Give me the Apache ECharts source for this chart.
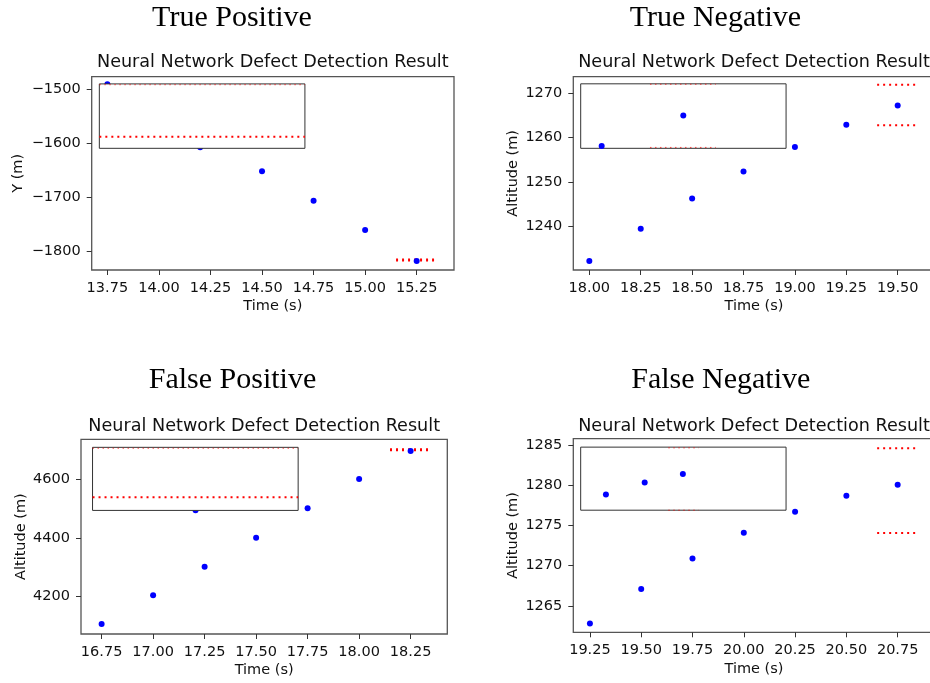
<!DOCTYPE html>
<html>
<head>
<meta charset="utf-8">
<script src="https://cdn.jsdelivr.net/npm/echarts@6/dist/echarts.min.js"></script>
<style>
html,body{margin:0;padding:0;overflow:hidden;background:#fff;}
#c{width:940px;height:683px;}
</style>
</head>
<body>
<div id="c"></div>
<script>
// ---- True Positive ----
const tpTime = [13.75, 14.2, 14.5, 14.75, 15.0, 15.25];
const tpValue = [-1490.8, -1607.2, -1651.6, -1705.9, -1760, -1817.3];
const tpXTicks = [13.75, 14.0, 14.25, 14.5, 14.75, 15.0, 15.25];
const tpYTicks = [-1800, -1700, -1600, -1500];
const tpGuides = [[15.15, 15.35, -1815.5]];
const tpInsetGuides = [[13.711, 14.708, -1587.6]];
const tpInsetFaint = [[13.711, 14.708, -1491.5]];
const tpInset = [13.711, 14.708, -1609, -1490];

// ---- True Negative ----
const tnTime = [18.0, 18.06, 18.25, 18.457, 18.5, 18.75, 19.0, 19.25, 19.5];
const tnValue = [1232.3, 1258.1, 1239.5, 1265.0, 1246.3, 1252.4, 1257.9, 1262.9, 1267.2];
const tnXTicks = [18.0, 18.25, 18.5, 18.75, 19.0, 19.25, 19.5];
const tnYTicks = [1240, 1250, 1260, 1270];
const tnGuides = [[19.4, 19.6, 1271.9], [19.4, 19.6, 1262.8]];
const tnInsetGuides = [];
const tnInsetFaint = [[18.295, 18.615, 1272.0], [18.295, 18.615, 1257.8]];
const tnInset = [17.958, 18.957, 1257.6, 1272.1];

// ---- False Positive ----
const fpTime = [16.75, 17.0, 17.206, 17.25, 17.5, 17.75, 18.0, 18.25];
const fpValue = [4106.9, 4204.5, 4494.3, 4302.3, 4401, 4501, 4601, 4696.5];
const fpXTicks = [16.75, 17.0, 17.25, 17.5, 17.75, 18.0, 18.25];
const fpYTicks = [4200, 4400, 4600];
const fpGuides = [[18.15, 18.35, 4700.9]];
const fpInsetGuides = [[16.706, 17.704, 4539]];
const fpInsetFaint = [[16.706, 17.704, 4706]];
const fpInset = [16.706, 17.704, 4494, 4709];

// ---- False Negative ----
const fnTime = [19.25, 19.328, 19.5, 19.517, 19.703, 19.75, 20.0, 20.25, 20.5, 20.75];
const fnValue = [1262.8, 1278.85, 1267.1, 1280.35, 1281.4, 1270.9, 1274.1, 1276.7, 1278.7, 1280.06];
const fnXTicks = [19.25, 19.5, 19.75, 20.0, 20.25, 20.5, 20.75];
const fnYTicks = [1265, 1270, 1275, 1280, 1285];
const fnGuides = [[20.65, 20.85, 1284.6], [20.65, 20.85, 1274.05]];
const fnInsetGuides = [];
const fnInsetFaint = [[19.632, 19.78, 1284.66], [19.632, 19.78, 1276.9]];
const fnInset = [19.205, 20.206, 1276.9, 1284.75];

const panels = [
  {time: tpTime, value: tpValue, xt: tpXTicks, yt: tpYTicks, guides: tpGuides, ig: tpInsetGuides, igf: tpInsetFaint, inset: tpInset, opaque: true,
   grid: {left: 91.7, top: 76.7, width: 362.3, height: 193.3}, xr: [13.674, 15.431], yr: [-1833.8, -1476.7], yName: 'Y (m)', yGap: 66,
   title: 'True Positive', tx: 232, ty: 18.5, sx: 272.8, sy: 62.5},
  {time: tnTime, value: tnValue, xt: tnXTicks, yt: tnYTicks, guides: tnGuides, ig: tnInsetGuides, igf: tnInsetFaint, inset: tnInset, opaque: false,
   grid: {left: 573.3, top: 76.7, width: 361.4, height: 193.3}, xr: [17.922, 19.68], yr: [1230.25, 1273.7], yName: 'Altitude (m)', yGap: 53,
   title: 'True Negative', tx: 715.5, ty: 18.5, sx: 754, sy: 62.5},
  {time: fpTime, value: fpValue, xt: fpXTicks, yt: fpYTicks, guides: fpGuides, ig: fpInsetGuides, igf: fpInsetFaint, inset: fpInset, opaque: true,
   grid: {left: 81, top: 439.3, width: 366.3, height: 194.7}, xr: [16.65, 18.428], yr: [4072.8, 4736.4], yName: 'Altitude (m)', yGap: 46,
   title: 'False Positive', tx: 232.5, ty: 380, sx: 264.2, sy: 426},
  {time: fnTime, value: fnValue, xt: fnXTicks, yt: fnYTicks, guides: fnGuides, ig: fnInsetGuides, igf: fnInsetFaint, inset: fnInset, opaque: false,
   grid: {left: 573.3, top: 438.7, width: 361.3, height: 193.6}, xr: [19.169, 20.93], yr: [1261.7, 1285.8], yName: 'Altitude (m)', yGap: 53,
   title: 'False Negative', tx: 720.8, ty: 380, sx: 754, sy: 426}
];

const SANS = 'DejaVu Sans';
const txt = '#111';
const spine = '#555';
const grids = [], xAxes = [], yAxes = [], series = [], graphics = [];

panels.forEach((p, i) => {
  grids.push(Object.assign({show: true, borderColor: spine, borderWidth: 1.3, backgroundColor: 'transparent'}, p.grid));
  xAxes.push({
    type: 'value', gridIndex: i, min: p.xr[0], max: p.xr[1],
    name: 'Time (s)', nameLocation: 'middle', nameGap: 29,
    nameTextStyle: {fontFamily: SANS, fontSize: 14.5, color: txt},
    axisLine: {show: false, onZero: false},
    axisTick: {show: true, length: 5, lineStyle: {color: '#333', width: 1}, customValues: p.xt},
    axisLabel: {show: true, margin: 10.5, fontFamily: SANS, fontSize: 14.5, color: txt, customValues: p.xt,
      formatter: v => Number(v).toFixed(2)},
    splitLine: {show: false}
  });
  yAxes.push({
    type: 'value', gridIndex: i, min: p.yr[0], max: p.yr[1],
    name: p.yName, nameLocation: 'middle', nameGap: p.yGap, nameRotate: 90,
    nameTextStyle: {fontFamily: SANS, fontSize: 14.5, color: txt},
    axisLine: {show: false, onZero: false},
    axisTick: {show: true, length: 5, lineStyle: {color: '#333', width: 1}, customValues: p.yt},
    axisLabel: {show: true, margin: 11, fontFamily: SANS, fontSize: 14.5, color: txt, customValues: p.yt,
      formatter: v => v < 0 ? '\u2212' + Math.abs(v) : String(v)},
    splitLine: {show: false}
  });
  series.push({
    type: 'scatter', xAxisIndex: i, yAxisIndex: i, symbolSize: 6, z: 2,
    itemStyle: {color: '#0000ff', opacity: 1}, silent: true,
    data: p.time.map((t, k) => [t, p.value[k]])
  });
  // inset rectangle
  series.push({
    type: 'line', xAxisIndex: i, yAxisIndex: i, z: 3, silent: true, data: [],
    markArea: {
      silent: true, label: {show: false}, z: p.opaque ? 5 : 1,
      itemStyle: {color: p.opaque ? '#ffffff' : 'rgba(0,0,0,0)', borderColor: '#333', borderWidth: 1, opacity: 1},
      emphasis: {disabled: true},
      data: [[{coord: [p.inset[0], p.inset[2]]}, {coord: [p.inset[1], p.inset[3]]}]]
    }
  });
  const addSeg = (s, w, dash, op, z) => series.push({
    type: 'line', xAxisIndex: i, yAxisIndex: i, z: z, silent: true, symbol: 'none',
    lineStyle: {color: '#ff0000', width: w, type: dash, cap: 'butt', opacity: op},
    data: [[s[0], s[2]], [s[1], s[2]]]
  });
  p.guides.forEach(s => addSeg(s, i === 0 || i === 2 ? 3 : 2, [2, 4], 1, 1));
  p.ig.forEach(s => addSeg(s, 2, [2, 4], 1, 7));
  p.igf.forEach(s => addSeg(s, 1, [1.5, 3.5], 0.7, 7));

  graphics.push({type: 'text', z: 10, style: {text: p.title, x: p.tx, y: p.ty, align: 'center', verticalAlign: 'middle',
    font: '30px "Liberation Serif"', fill: '#000'}});
  graphics.push({type: 'text', z: 10, style: {text: 'Neural Network Defect Detection Result', x: p.sx, y: p.sy, align: 'center', verticalAlign: 'middle',
    font: '17.6px "DejaVu Sans"', fill: txt}});
});

const chart = echarts.init(document.getElementById('c'), null, {renderer: 'canvas'});
chart.setOption({
  animation: false,
  backgroundColor: '#fff',
  grid: grids, xAxis: xAxes, yAxis: yAxes, series: series, graphic: graphics
});
</script>
</body>
</html>
